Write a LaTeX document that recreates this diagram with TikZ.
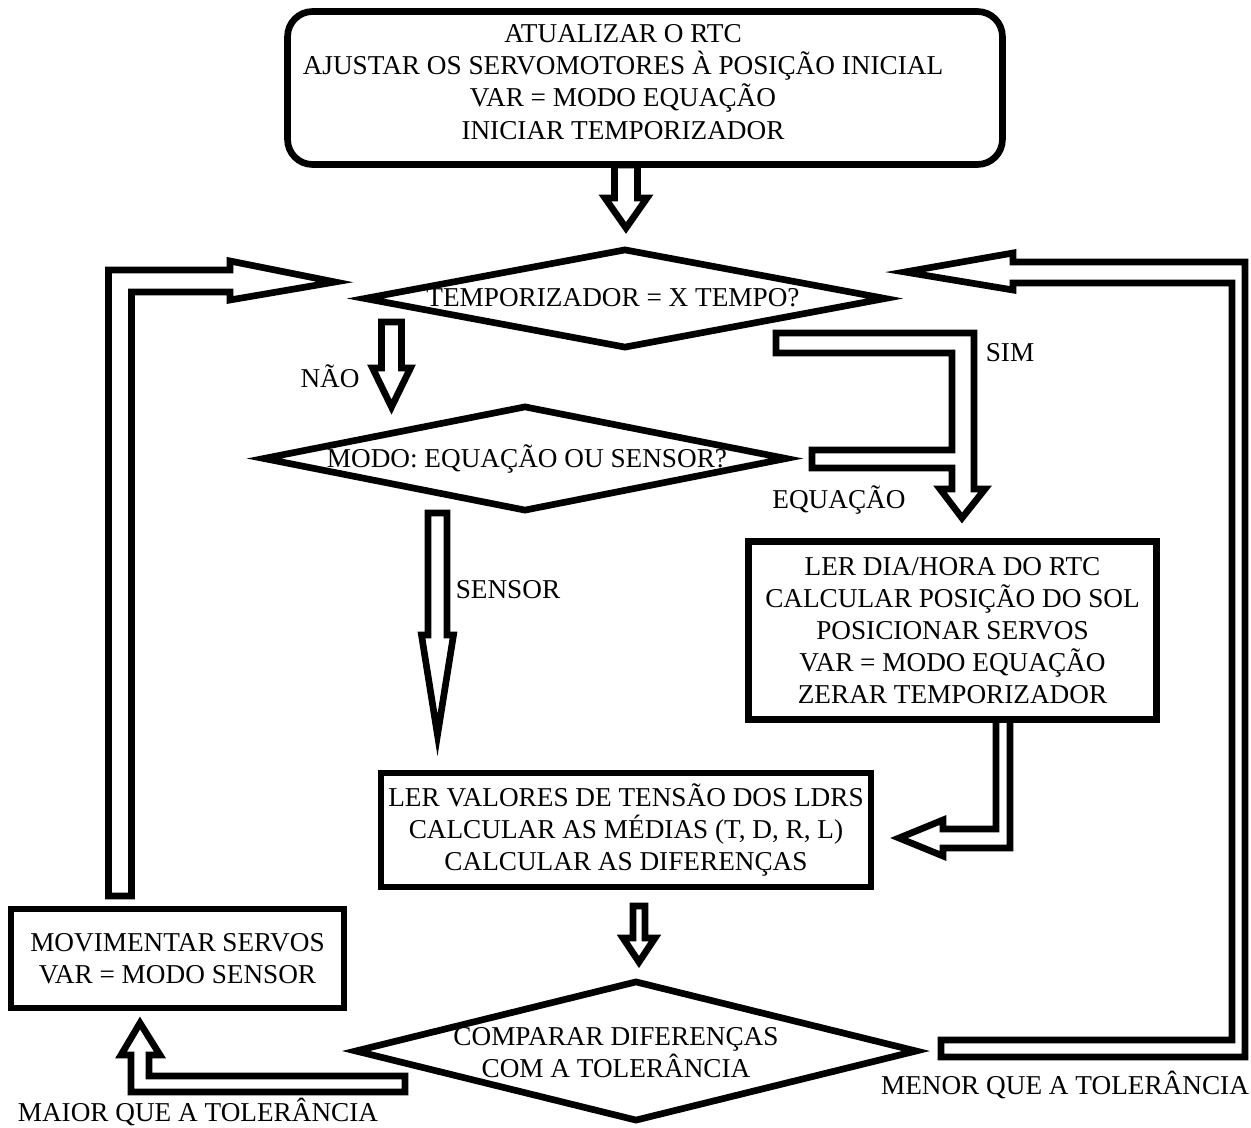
\documentclass[tikz,border=0pt]{standalone}
\usepackage{fontspec}
\setmainfont{Liberation Serif}
\usetikzlibrary{shapes.geometric}

\begin{document}
\begin{tikzpicture}[x=0.02cm,y=-0.02cm,line width=3.8pt,line join=miter,
  font=\fontsize{15.5}{18.3}\selectfont,
  box/.style={draw,align=center,inner sep=0pt},
  dia/.style={draw,diamond,inner sep=0pt},
  lbl/.style={align=center,inner sep=0pt},
  blk/.style={draw,fill=white}]
\useasboundingbox (0,0) rectangle (1251,1128);
% straight hollow arrows (centre x / top / head back / tip / half shaft / half head)
\foreach \cx/\ya/\yb/\yc/\hs/\hh in {626/165/198/228/11.5/21,391.5/322/368/407/10/19,
  437.5/513/635/735/9.5/16,639/906/938/962/6/16} {
  \draw[blk] (\cx-\hs,\ya) -- (\cx+\hs,\ya) -- (\cx+\hs,\yb) -- (\cx+\hh,\yb)
    -- (\cx,\yc) -- (\cx-\hh,\yb) -- (\cx-\hs,\yb) -- cycle;
}
% loop back on the left (servos moved)
\draw[blk] (108.5,896) -- (108.5,270) -- (230,270) -- (230,261) -- (335,282)
  -- (230,300) -- (230,292) -- (131.5,292) -- (131.5,896) -- cycle;
% loop back on the right (below tolerance)
\draw[blk] (941,1040) -- (1232,1040) -- (1232,283) -- (1013,283) -- (1013,290)
  -- (905,272) -- (1013,253) -- (1013,262) -- (1245,262) -- (1245,1057) -- (941,1057) -- cycle;
% SIM and EQUACAO joined arrow
\draw[blk] (776,333) -- (974,333) -- (974,489) -- (985,489) -- (962,518) -- (940,489)
  -- (952,489) -- (952,468) -- (812,468) -- (812,450) -- (952,450) -- (952,353) -- (776,353) -- cycle;
% from equation box to LDR box
\draw[blk] (996,720) -- (996,829) -- (943,829) -- (943,820) -- (899,838) -- (943,856)
  -- (943,848) -- (1010,848) -- (1010,720);
% above tolerance -> move servos
\draw[blk] (405,1076) -- (149,1076) -- (149,1055) -- (160,1055) -- (140,1023) -- (121,1055)
  -- (131,1055) -- (131,1092) -- (405,1092) -- cycle;
% boxes
\node[box,rounded corners=0.5cm,minimum width=14.3cm,minimum height=3.06cm] (init) at (645,88) {};
\node[lbl] (initT) at (623,82) {ATUALIZAR O RTC\\AJUSTAR OS SERVOMOTORES À POSIÇÃO INICIAL\\VAR = MODO EQUAÇÃO\\INICIAR TEMPORIZADOR};
\node[box,minimum width=8.16cm,minimum height=3.56cm] (calc) at (952.5,630.5)
  {LER DIA/HORA DO RTC\\CALCULAR POSIÇÃO DO SOL\\POSICIONAR SERVOS\\VAR = MODO EQUAÇÃO\\ZERAR TEMPORIZADOR};
\node[box,minimum width=9.8cm,minimum height=2.28cm] (ldr) at (626,830)
  {LER VALORES DE TENSÃO DOS LDRS\\CALCULAR AS MÉDIAS (T, D, R, L)\\CALCULAR AS DIFERENÇAS};
\node[box,minimum width=6.66cm,minimum height=1.98cm] (mov) at (177.5,958.5)
  {MOVIMENTAR SERVOS\\VAR = MODO SENSOR};
% decisions
\node[dia,minimum width=10.46cm,minimum height=2cm] (tmr) at (625,298.5) {};
\node[lbl] (tmrT) at (613,298) {TEMPORIZADOR = X TEMPO?};
\node[dia,minimum width=10.5cm,minimum height=2.12cm] (mode) at (525,458.5) {};
\node[lbl] (modeT) at (527,459) {MODO: EQUAÇÃO OU SENSOR?};
\node[dia,minimum width=11.26cm,minimum height=2.82cm] (cmp) at (636,1051) {};
\node[lbl] (cmpT) at (616,1053) {COMPARAR DIFERENÇAS\\COM A TOLERÂNCIA};
% branch labels
\node[lbl] (nao) at (330,376) {NÃO};
\node[lbl] (sim) at (1010,353) {SIM};
\node[lbl] (equ) at (839,500) {EQUAÇÃO};
\node[lbl] (sen) at (508,590) {SENSOR};
\node[lbl] (maior) at (198,1112) {MAIOR QUE A TOLERÂNCIA};
\node[lbl] (menor) at (1065,1085) {MENOR QUE A TOLERÂNCIA};
\end{tikzpicture}
\end{document}
